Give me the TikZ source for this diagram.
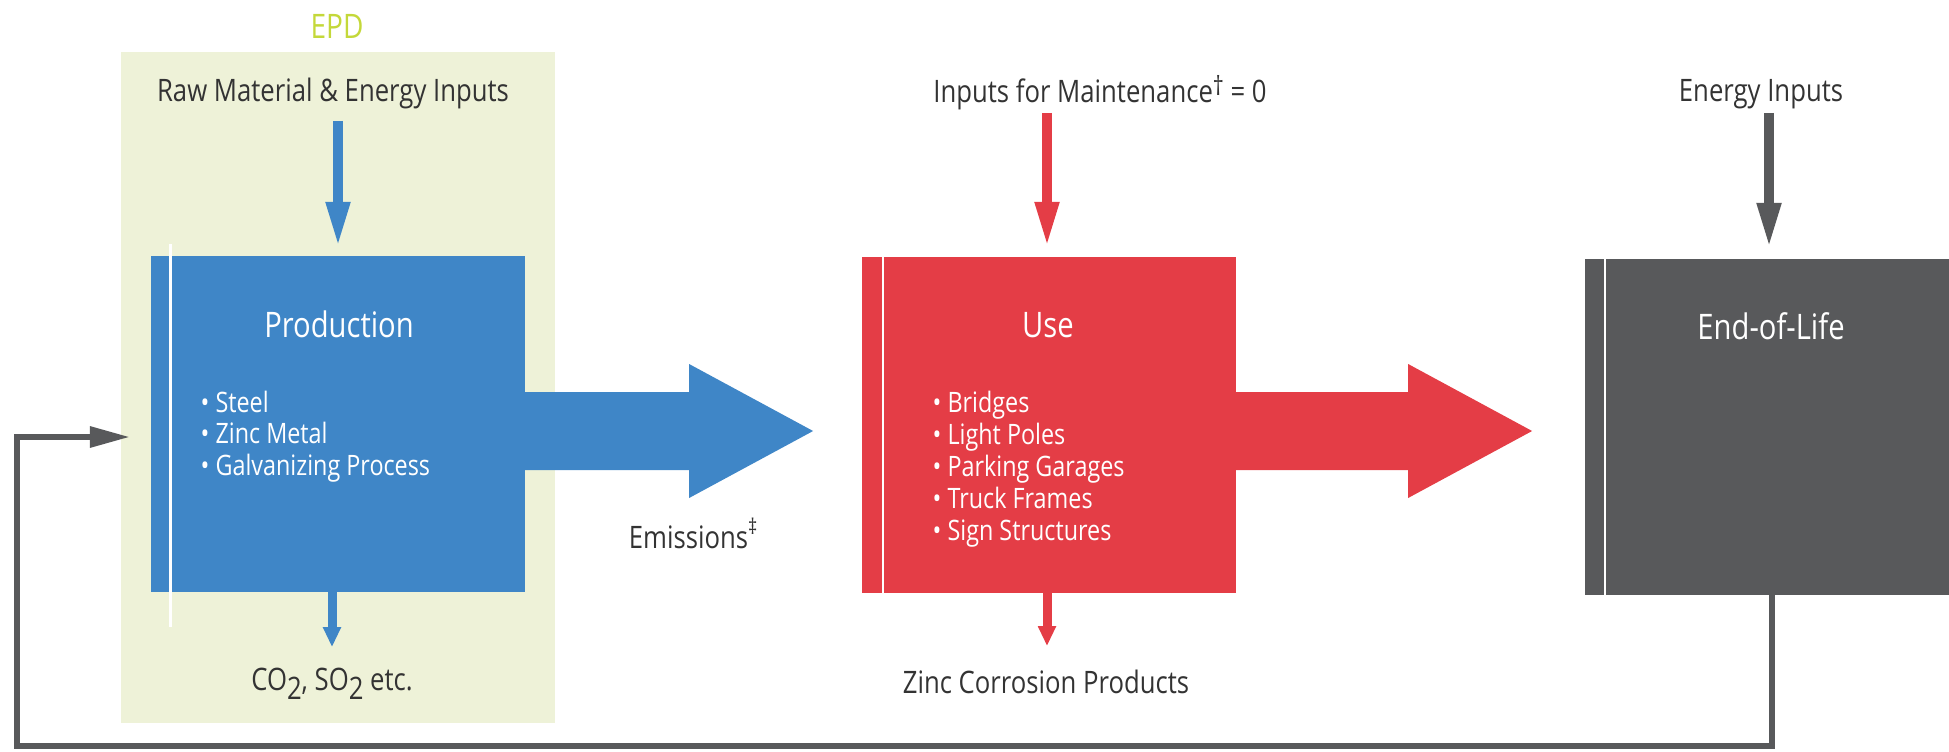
\documentclass[tikz,border=0pt]{standalone}
\usepackage{fontspec}
\setmainfont{Open Sans}[FakeStretch=0.83]
\usetikzlibrary{arrows.meta}

\definecolor{prodblue}{HTML}{3F86C7}
\definecolor{usered}{HTML}{E43D46}
\definecolor{eolgrey}{HTML}{58595B}
\definecolor{epdfill}{HTML}{EEF2D8}
\definecolor{epdgreen}{HTML}{C4D83A}
\definecolor{lblgrey}{HTML}{333333}

\newcommand{\lowtwo}{\raisebox{-0.09cm}{2}}

\tikzset{
  stage/.style={minimum width=3.74cm, minimum height=3.36cm, inner sep=0pt, outer sep=0pt},
  divider/.style={white, line width=0.8pt},
  lbl/.style={text=lblgrey, font=\fontsize{8.8}{10}\selectfont, inner sep=0pt},
  stagetitle/.style={text=white, font=\fontsize{10}{12}\selectfont, inner sep=0pt},
  items/.style={text=white, font=\fontsize{8}{9}\selectfont, inner sep=0pt},
  flowin/.style={line width=2.85pt, -{Triangle[length=0.46cm,width=0.22cm]}},
  flowout/.style={line width=2.56pt, -{Triangle[length=0.2cm,width=0.17cm]}},
  loopline/.style={eolgrey, line width=1.7pt, -{Triangle[length=0.4cm,width=0.2cm]}}
}

\begin{document}
\begin{tikzpicture}[x=0.01cm, y=0.01cm]
  \clip (0,0) rectangle (1949,751);

  % EPD panel
  \node (epdpanel) [fill=epdfill, minimum width=4.34cm, minimum height=6.71cm, inner sep=0pt] at (338,363.5) {};
  \node[lbl, text=epdgreen, font=\fontsize{9.6}{11}\selectfont, anchor=base] (epd) at (337,712) {EPD};

  % stages
  \node (prod) [stage, fill=prodblue] at (338,327) {};
  \node (use) [stage, fill=usered] at (1049,326) {};
  \node (eol) [stage, fill=eolgrey] at (1772,324) {};

  \draw[divider] ([xshift=0.2cm, yshift=0.12cm]prod.north west) -- ([xshift=0.2cm, yshift=-0.35cm]prod.south west);
  \draw[divider] ([xshift=0.21cm]use.north west) -- ([xshift=0.21cm]use.south west);
  \draw[divider] ([xshift=0.2cm]eol.north west) -- ([xshift=0.2cm]eol.south west);

  % big flow arrows
  \fill[prodblue] ([yshift=-0.07cm]prod.east) ++(0,39) -- ++(164,0) -- ++(0,28) -- ++(124,-67)
    -- ++(-124,-67) -- ++(0,28) -- ++(-164,0) -- cycle;
  \fill[usered] ([yshift=-0.06cm]use.east) ++(0,39) -- ++(172,0) -- ++(0,28) -- ++(124,-67)
    -- ++(-124,-67) -- ++(0,28) -- ++(-172,0) -- cycle;

  % inputs and outputs
  \node[lbl, anchor=base] (rawin) at (333,649) {Raw Material \& Energy Inputs};
  \node[lbl, anchor=base] (maint) at (1100,648) {Inputs for Maintenance\raisebox{0.07cm}{\fontsize{7.5}{8}\selectfont\textdagger} = 0};
  \node[lbl, anchor=base] (energy) at (1761,649) {Energy Inputs};
  \node[lbl, anchor=base] (gases) at (332,61) {CO\lowtwo, SO\lowtwo\ etc.};
  \node[lbl, anchor=base] (corr) at (1046,58) {Zinc Corrosion Products};
  \node[lbl, anchor=base] (emis) at (694,203) {Emissions\textsuperscript{\textdaggerdbl}};

  \draw[flowin, prodblue] ([yshift=1.35cm]prod.north) -- ([yshift=0.08cm]prod.north);
  \draw[flowin, usered] ([xshift=-0.02cm, yshift=1.44cm]use.north) -- ([xshift=-0.02cm, yshift=0.09cm]use.north);
  \draw[flowin, eolgrey] ([xshift=-0.03cm, yshift=1.46cm]eol.north) -- ([xshift=-0.03cm, yshift=0.1cm]eol.north);

  \draw[flowout, prodblue] ([xshift=-0.06cm]prod.south) -- ++(0,-55);
  \draw[flowout, usered] ([xshift=-0.02cm]use.south) -- ++(0,-53);

  % recycling loop
  \coordinate (loopin) at (130,314);
  \draw[loopline] (eol.south) |- (17,5) |- (loopin);

  % stage texts
  \node[stagetitle, anchor=base] (prodT) at (339,413) {Production};
  \node[stagetitle, anchor=base] (useT) at (1048,414) {Use};
  \node[stagetitle, anchor=base] (eolT) at (1771,412) {End-of-Life};

  \foreach \txt [count=\i from 0] in {Steel, Zinc Metal, Galvanizing Process}
    \node[items, anchor=base west] (prodItem\i) at (200,{339-31.5*\i}) {\textbullet\ \txt};
  \foreach \txt [count=\i from 0] in {Bridges, Light Poles, Parking Garages, Truck Frames, Sign Structures}
    \node[items, anchor=base west] (useItem\i) at (932,{339-32*\i}) {\textbullet\ \txt};
\end{tikzpicture}
\end{document}
